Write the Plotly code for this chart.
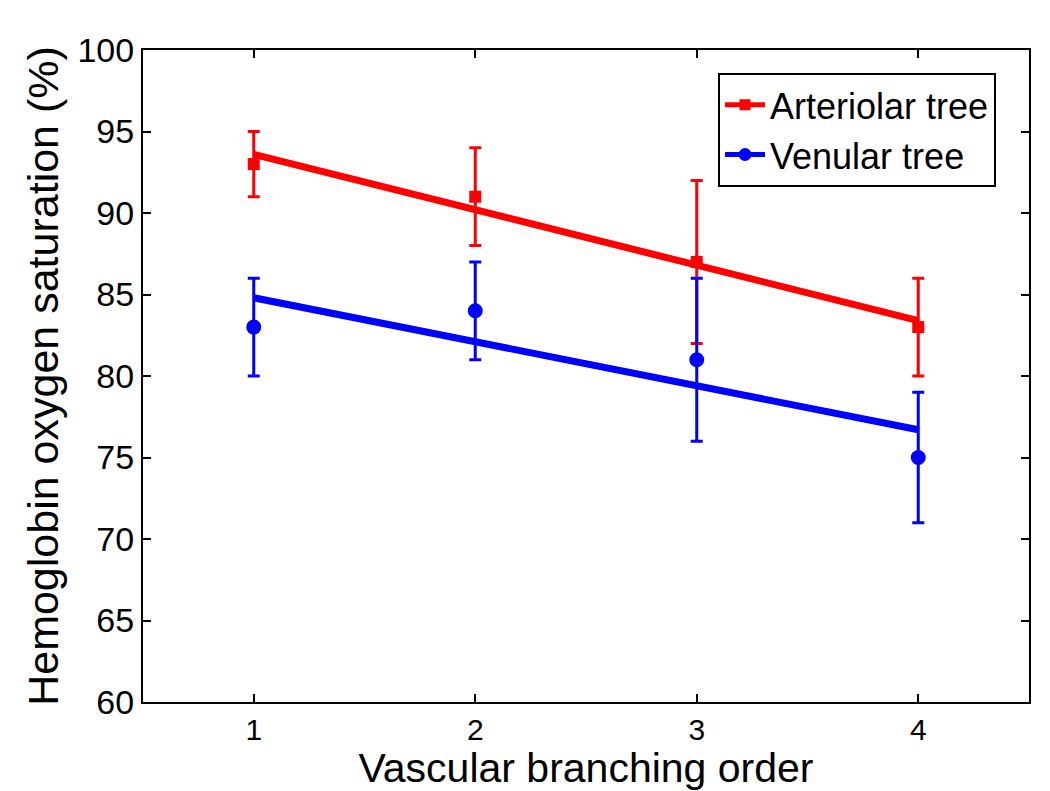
import plotly.graph_objects as go

orders = [1, 2, 3, 4]
arteriolar = [93, 91, 87, 83]
arteriolar_err_plus = [2, 3, 5, 3]
arteriolar_err_minus = [2, 3, 5, 3]
venular = [83, 84, 81, 75]
venular_err_plus = [3, 3, 5, 4]
venular_err_minus = [3, 3, 5, 4]
fit_x = [1, 4]
arteriolar_fit = [93.6, 83.4]
venular_fit = [84.8, 76.7]
y_ticks = [60, 65, 70, 75, 80, 85, 90, 95, 100]
x_ticks = [1, 2, 3, 4]

RED = "#ff0000"
BLUE = "#0000ff"
FONT = "Liberation Sans, Arial, sans-serif"

fig = go.Figure()

# fit lines
fig.add_trace(go.Scatter(x=fit_x, y=arteriolar_fit, mode="lines",
                         line=dict(color=RED, width=7), showlegend=False, hoverinfo="skip"))
fig.add_trace(go.Scatter(x=fit_x, y=venular_fit, mode="lines",
                         line=dict(color=BLUE, width=7), showlegend=False, hoverinfo="skip"))

# data with error bars
fig.add_trace(go.Scatter(x=orders, y=arteriolar, mode="markers",
                         marker=dict(symbol="square", size=12, color=RED),
                         error_y=dict(type="data", array=arteriolar_err_plus,
                                      arrayminus=arteriolar_err_minus,
                                      color=RED, thickness=3, width=6),
                         showlegend=False))
fig.add_trace(go.Scatter(x=orders, y=venular, mode="markers",
                         marker=dict(symbol="circle", size=15, color=BLUE),
                         error_y=dict(type="data", array=venular_err_plus,
                                      arrayminus=venular_err_minus,
                                      color=BLUE, thickness=3, width=6),
                         showlegend=False))

# legend entries
fig.add_trace(go.Scatter(x=[None], y=[None], mode="lines+markers", name="Arteriolar tree",
                         line=dict(color=RED, width=5),
                         marker=dict(symbol="square", size=11, color=RED)))
fig.add_trace(go.Scatter(x=[None], y=[None], mode="lines+markers", name="Venular tree",
                         line=dict(color=BLUE, width=5),
                         marker=dict(symbol="circle", size=13, color=BLUE)))

axis_common = dict(showline=True, linecolor="black", linewidth=2, mirror="ticks",
                   ticks="inside", ticklen=8, tickwidth=2, tickcolor="black",
                   showgrid=False, zeroline=False)

fig.update_xaxes(range=[0.5, 4.5], tickvals=x_ticks,
                 tickfont=dict(family=FONT, size=30, color="black"),
                 title=dict(text="Vascular branching order", standoff=5,
                            font=dict(family=FONT, size=41, color="black")),
                 **axis_common)
fig.update_yaxes(range=[60, 100], tickvals=y_ticks,
                 tickfont=dict(family=FONT, size=34, color="black"),
                 title=dict(text="Hemoglobin oxygen saturation (%)", standoff=5,
                            font=dict(family=FONT, size=43, color="black")),
                 **axis_common)

fig.update_layout(
    width=1042, height=783,
    margin=dict(l=135, r=21, t=42, b=89),
    plot_bgcolor="white", paper_bgcolor="white",
    font=dict(family=FONT, color="black"),
    legend=dict(x=0.649, y=0.965, xanchor="left", yanchor="top",
                bgcolor="white", bordercolor="black", borderwidth=2,
                font=dict(family=FONT, size=36, color="black"),
                itemwidth=40, tracegroupgap=0),
)

fig.write_html("out.html")
